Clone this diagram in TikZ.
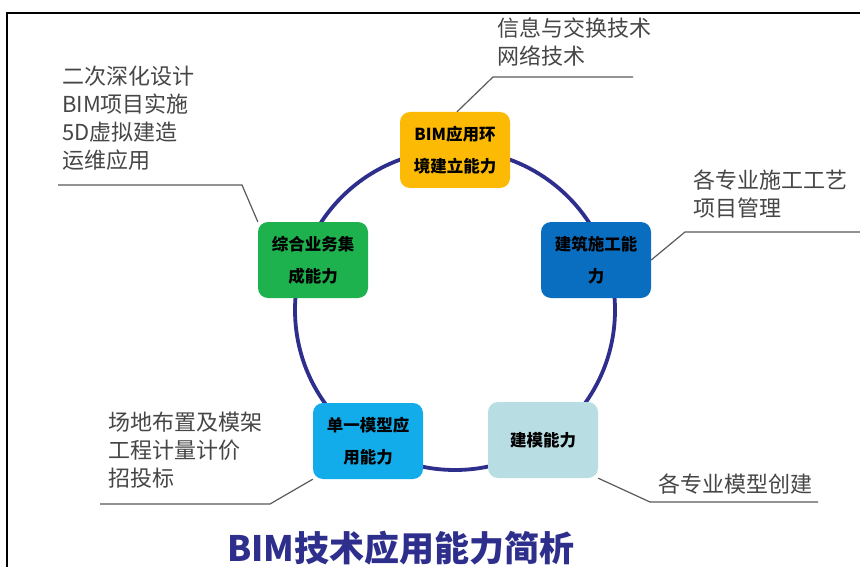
\documentclass[tikz,border=0pt]{standalone}
\usepackage{fontspec}
\setmainfont{Noto Sans CJK SC}
\definecolor{navy}{RGB}{46,46,140}
\definecolor{cyellow}{RGB}{252,186,5}
\definecolor{cblue}{RGB}{10,110,192}
\definecolor{cgreen}{RGB}{30,178,78}
\definecolor{clblue}{RGB}{18,172,235}
\definecolor{cpale}{RGB}{184,222,228}
\definecolor{ctext}{RGB}{70,70,70}
\definecolor{cline}{RGB}{90,90,90}
\begin{document}
\begin{tikzpicture}[x=1pt,y=-1pt,
  capbox/.style={rounded corners=10pt, minimum width=110pt, minimum height=76pt, align=center, inner sep=0pt,
    font=\fontsize{16.5}{32}\selectfont\bfseries, text=black},
  calltext/.style={anchor=north west, align=left, inner sep=0pt, text=ctext, font=\fontsize{22}{28}\selectfont},
  callline/.style={draw=cline, line width=1.2pt},
  ring/.style={draw=navy, line width=3.8pt}]
\useasboundingbox (0,0) rectangle (860,567);
\fill[white] (0,0) rectangle (860,567);
\draw[line width=2pt] (860,13) -- (7,13) -- (7,567);
\draw[ring] (455,310) circle (160);
\node[capbox, fill=cyellow] (env) at (455,150) {BIM应用环\\境建立能力};
\node[capbox, fill=cblue] (cons) at (596,260) {建筑施工能\\力};
\node[capbox, fill=cgreen] (integ) at (313,260) {综合业务集\\成能力};
\node[capbox, fill=clblue] (single) at (368,441) {单一模型应\\用能力};
\node[capbox, fill=cpale] (model) at (543,440) {建模能力};
% callouts
\node[calltext] (tenv) at (497,18) {信息与交换技术\\网络技术};
\coordinate (aenv) at (493,77); \coordinate (benv) at (633,77);
\path (env.north) ++(2,0) coordinate (eenv);
\draw[callline] (benv) -- (aenv) -- (eenv);
\node[calltext] (tcons) at (693,170) {各专业施工工艺\\项目管理};
\coordinate (acons) at (685,232); \coordinate (bcons) at (860,232);
\draw[callline] (bcons) -- (acons) -- (cons.east);
\node[calltext] (tinteg) at (62,66) {二次深化设计\\BIM项目实施\\5D虚拟建造\\运维应用};
\coordinate (ainteg) at (242,185); \coordinate (binteg) at (58,185);
\draw[callline] (binteg) -- (ainteg) -- (integ.north west);
\node[calltext] (tsingle) at (108,412) {场地布置及模架\\工程计量计价\\招投标};
\coordinate (asingle) at (270,504); \coordinate (bsingle) at (100,504);
\draw[callline] (bsingle) -- (asingle) -- (single.south west);
\node[calltext] (tmodel) at (658,474) {各专业模型创建};
\coordinate (amodel) at (650,502); \coordinate (bmodel) at (818,502);
\draw[callline] (bmodel) -- (amodel) -- (model.south east);
\node[text=navy, font=\fontsize{35}{40}\selectfont\bfseries, inner sep=0pt] (title) at (401,548) {BIM技术应用能力简析};
\end{tikzpicture}
\end{document}
